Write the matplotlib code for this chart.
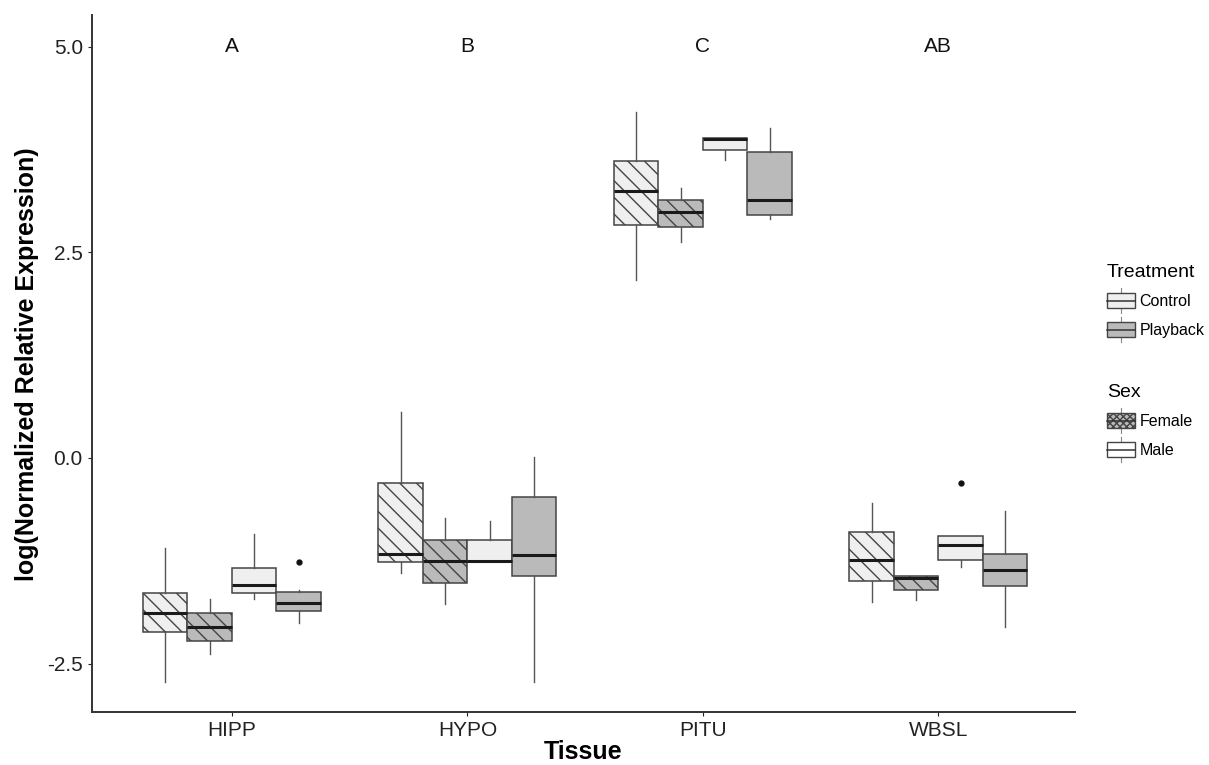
"""Boxplot of log normalized relative expression by tissue, treatment and sex."""

import matplotlib

matplotlib.use("Agg")
import matplotlib.pyplot as plt
from matplotlib.legend_handler import HandlerBase
from matplotlib.lines import Line2D
from matplotlib.patches import Patch, Rectangle

plt.rcParams["font.family"] = ["Liberation Sans", "DejaVu Sans"]
plt.rcParams["axes.unicode_minus"] = False
plt.rcParams["hatch.color"] = "#555555"
plt.rcParams["hatch.linewidth"] = 1.0

# Data.
tissues = ["HIPP", "HYPO", "PITU", "WBSL"]
letters = ["A", "B", "C", "AB"]
# Group order within each tissue: Control-Female, Playback-Female, Control-Male, Playback-Male
groups = [("Control", "Female"), ("Playback", "Female"), ("Control", "Male"), ("Playback", "Male")]

whislo = [
    [-2.72, -2.38, -1.71, -2.00],
    [-1.40, -1.77, -1.27, -2.72],
    [2.16, 2.63, 3.62, 2.91],
    [-1.75, -1.73, -1.32, -2.05],
]
q1 = [
    [-2.12, -2.22, -1.64, -1.86],
    [-1.27, -1.52, -1.27, -1.44],
    [2.83, 2.81, 3.74, 2.95],
    [-1.49, -1.60, -1.24, -1.56],
]
med = [
    [-1.88, -2.05, -1.54, -1.76],
    [-1.17, -1.25, -1.25, -1.18],
    [3.24, 2.99, 3.88, 3.14],
    [-1.24, -1.46, -1.06, -1.36],
]
q3 = [
    [-1.64, -1.88, -1.34, -1.63],
    [-0.30, -1.00, -1.00, -0.47],
    [3.61, 3.14, 3.89, 3.72],
    [-0.90, -1.43, -0.95, -1.17],
]
whishi = [
    [-1.09, -1.72, -0.92, -1.60],
    [0.56, -0.73, -0.76, 0.01],
    [4.21, 3.28, 3.89, 4.01],
    [-0.55, -1.43, -0.95, -0.65],
]
fliers = [
    [[], [], [], [-1.26]],
    [[], [], [], []],
    [[], [], [], []],
    [[], [], [-0.31], []],
]

treat_color = {"Control": "#efefef", "Playback": "#bababa"}
sex_hatch = {"Female": "\\\\", "Male": ""}

BOX_W = 0.189
offsets = [-1.5 * BOX_W, -0.5 * BOX_W, 0.5 * BOX_W, 1.5 * BOX_W]


class BoxKey(HandlerBase):
    """Legend key drawn like a small boxplot."""

    def create_artists(self, legend, orig_handle, xdescent, ydescent,
                       width, height, fontsize, trans):
        x0, y0 = -xdescent, -ydescent
        xm = x0 + width / 2
        whisker = Line2D([xm, xm], [y0 - height * 0.15, y0 + height * 1.15], color="#888888",
                         lw=0.8, transform=trans)
        rect = Rectangle((x0, y0 + height * 0.12), width, height * 0.76,
                         facecolor=orig_handle.get_facecolor(), hatch=orig_handle.get_hatch(),
                         edgecolor="#444444", lw=1.0, transform=trans)
        median = Line2D([x0, x0 + width], [y0 + height / 2] * 2, color="#333333", lw=1.1, transform=trans)
        return [whisker, rect, median]


fig = plt.figure(figsize=(12.09, 7.65), dpi=100)
ax = fig.add_axes([0.076, 0.069, 0.813, 0.911])

for ti, tissue in enumerate(tissues):
    for gi, (treat, sex) in enumerate(groups):
        stats = [{
            "whislo": whislo[ti][gi], "q1": q1[ti][gi], "med": med[ti][gi],
            "q3": q3[ti][gi], "whishi": whishi[ti][gi], "fliers": fliers[ti][gi],
        }]
        bp = ax.bxp(
            stats, positions=[ti + 1 + offsets[gi]], widths=BOX_W, patch_artist=True,
            showcaps=False, manage_ticks=False,
            boxprops=dict(facecolor=treat_color[treat], edgecolor="#444444", lw=1.1),
            whiskerprops=dict(color="#555555", lw=1.0),
            medianprops=dict(color="#1a1a1a", lw=2.2),
            flierprops=dict(marker="o", markersize=3.5, markerfacecolor="#111111",
                            markeredgecolor="#111111"),
        )
        for box in bp["boxes"]:
            box.set_hatch(sex_hatch[sex])
    ax.text(ti + 1, 5.0, letters[ti], ha="center", va="center", fontsize=15, color="#111111")

ax.set_xlim(0.405, 4.58)
ax.set_ylim(-3.09, 5.38)
ax.set_xticks(range(1, len(tissues) + 1))
ax.set_xticklabels(tissues)
ax.set_yticks([-2.5, 0.0, 2.5, 5.0])
ax.set_yticklabels(["-2.5", "0.0", "2.5", "5.0"])
ax.tick_params(labelsize=15, colors="#222222", length=3, width=0.8)
for side in ("top", "right"):
    ax.spines[side].set_visible(False)
for side in ("left", "bottom"):
    ax.spines[side].set_color("#333333")
    ax.spines[side].set_linewidth(1.4)
ax.set_xlabel("Tissue", fontsize=18, fontweight="bold", labelpad=0)
ax.set_ylabel("log(Normalized Relative Expression)", fontsize=18, fontweight="bold", labelpad=6)

# legends
treat_handles = [Patch(facecolor=treat_color[t], hatch="") for t in ("Control", "Playback")]
sex_handles = [Patch(facecolor="#bababa", hatch="xxxxx"), Patch(facecolor="white", hatch="")]
leg_kw = dict(frameon=False, fontsize=11.5, title_fontsize=14, handlelength=1.75,
              handleheight=1.5, labelspacing=0.6, handletextpad=0.3, alignment="left",
              handler_map={Patch: BoxKey()}, borderpad=0)
leg1 = fig.legend(treat_handles, ["Control", "Playback"], title="Treatment",
                  loc="upper left", bbox_to_anchor=(0.909, 0.665), **leg_kw)
leg2 = fig.legend(sex_handles, ["Female", "Male"], title="Sex",
                  loc="upper left", bbox_to_anchor=(0.909, 0.508), **leg_kw)

fig.savefig("out.png", dpi=100)
